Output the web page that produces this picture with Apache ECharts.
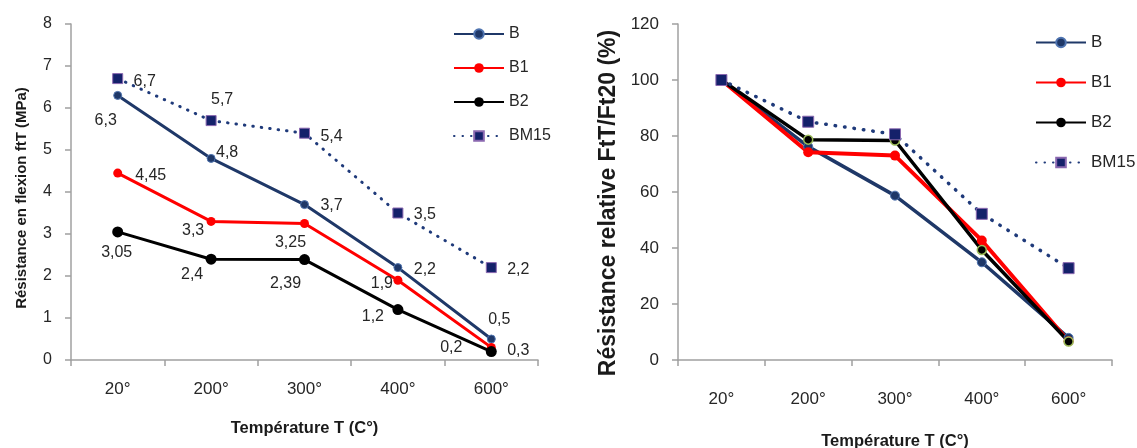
<!DOCTYPE html>
<html><head><meta charset="utf-8">
<script src="https://cdn.jsdelivr.net/npm/echarts@6/dist/echarts.min.js"></script>
<style>html,body{margin:0;padding:0;background:#fff}#c{width:1137px;height:448px}</style>
</head><body><div id="c"></div>
<script>
const categories = ['20°', '200°', '300°', '400°', '600°'];
const seriesNames = ['B', 'B1', 'B2', 'BM15'];
// Left chart: Résistance en flexion ftT (MPa)
const flexB = [6.3, 4.8, 3.7, 2.2, 0.5];
const flexB1 = [4.45, 3.3, 3.25, 1.9, 0.3];
const flexB2 = [3.05, 2.4, 2.39, 1.2, 0.2];
const flexBM15 = [6.7, 5.7, 5.4, 3.5, 2.2];
// Right chart: Résistance relative FtT/Ft20 (%)
const relB = [100, 76.2, 58.7, 34.9, 7.9];
const relB1 = [100, 74.2, 73.0, 42.7, 6.7];
const relB2 = [100, 78.7, 78.4, 39.3, 6.6];
const relBM15 = [100, 85.1, 80.6, 52.2, 32.8];

// label placement (style only)
const offB = [[-12, 25], [16, -6], [27, 1], [27, 2], [8, -19]];
const offB1 = [[33, 2], [-18, 9], [-14, 19], [-16, 3], [27, 3]];
const offB2 = [[-1, 21], [-19, 15], [-19, 24], [-25, 7], [-40, -4]];
const offBM15 = [[27, 3], [11, -21], [27, 3], [27, 2], [27, 2]];

const FONT = '"Liberation Sans", Arial, sans-serif';
const TXT = '#262626';
const AX = '#a0a0a0';
const NAVY = '#1f3868';
const NAVY2 = '#1f3a7a';

function withLabels(vals, offs) {
  return vals.map((v, i) => ({ value: v, label: { offset: offs[i] } }));
}
const lbl = {
  show: true, position: 'inside', color: TXT, fontSize: 16, fontFamily: FONT,
  formatter: p => String(p.value).replace('.', ',')
};

function xAxis(gi, margin, gap) {
  return {
    type: 'category', gridIndex: gi, data: categories, boundaryGap: true,
    axisLine: { lineStyle: { color: AX, width: 1.5 } },
    axisTick: { show: true, length: 6, alignWithLabel: false, interval: 0, lineStyle: { color: AX, width: 1.5 } },
    axisLabel: { margin: margin, color: TXT, fontSize: 17, fontFamily: FONT },
    name: 'Température T (C°)', nameLocation: 'middle', nameGap: gap,
    nameTextStyle: { color: '#1a1a1a', fontWeight: 'bold', fontSize: 16.5, fontFamily: FONT }
  };
}
function yAxis(gi, max, interval, fs, name, nfs, gap, pad) {
  return {
    type: 'value', gridIndex: gi, min: 0, max: max, interval: interval,
    splitLine: { show: false },
    axisLine: { show: true, lineStyle: { color: AX, width: 1.5 } },
    axisTick: { show: true, length: 6, lineStyle: { color: AX, width: 1.5 } },
    axisLabel: { margin: 19, color: TXT, fontSize: fs, fontFamily: FONT },
    name: name, nameLocation: 'middle', nameGap: gap,
    nameTextStyle: { color: '#1a1a1a', fontWeight: 'bold', fontSize: nfs, fontFamily: FONT, padding: [0, pad, 0, 0] }
  };
}

const option = {
  animation: false,
  backgroundColor: '#fff',
  grid: [
    { left: 71, right: 599, top: 24, bottom: 88, containLabel: false, outerBoundsMode: 'none' },
    { left: 678, right: 25, top: 24, bottom: 88, containLabel: false, outerBoundsMode: 'none' }
  ],
  xAxis: [xAxis(0, 21, 60), xAxis(1, 31, 73)],
  yAxis: [
    yAxis(0, 8, 1, 16, 'Résistance en flexion ftT (MPa)', 15, 42, 12),
    yAxis(1, 120, 20, 17, 'Résistance relative FtT/Ft20 (%)', 23, 58, 22)
  ],
  legend: [
    { orient: 'vertical', left: 453, top: 26, padding: 0, itemWidth: 50, itemHeight: 12, itemGap: 18,
      textStyle: { color: TXT, fontSize: 16, fontFamily: FONT }, data: seriesNames },
    { orient: 'vertical', left: 1035, top: 34, padding: 0, itemWidth: 50, itemHeight: 12, itemGap: 23,
      textStyle: { color: TXT, fontSize: 17, fontFamily: FONT }, data: seriesNames }
  ],
  series: [
    { name: 'B', type: 'line', xAxisIndex: 0, yAxisIndex: 0, data: withLabels(flexB, offB),
      symbol: 'circle', symbolSize: 8, lineStyle: { color: NAVY, width: 3 },
      itemStyle: { color: NAVY, borderColor: '#4f74b0', borderWidth: 1 }, label: lbl },
    { name: 'B1', type: 'line', xAxisIndex: 0, yAxisIndex: 0, data: withLabels(flexB1, offB1),
      symbol: 'circle', symbolSize: 9, lineStyle: { color: '#ff0000', width: 3 },
      itemStyle: { color: '#ff0000' }, label: lbl },
    { name: 'B2', type: 'line', xAxisIndex: 0, yAxisIndex: 0, data: withLabels(flexB2, offB2),
      symbol: 'circle', symbolSize: 11, lineStyle: { color: '#000', width: 3 },
      itemStyle: { color: '#000' }, label: lbl },
    { name: 'BM15', type: 'line', xAxisIndex: 0, yAxisIndex: 0, data: withLabels(flexBM15, offBM15),
      symbol: 'rect', symbolSize: 10, lineStyle: { color: NAVY2, width: 3, type: [0.5, 8], cap: 'round' },
      itemStyle: { color: '#14216a', borderColor: '#8a68b0', borderWidth: 1 }, label: lbl },

    { name: 'B', type: 'line', xAxisIndex: 1, yAxisIndex: 1, data: relB,
      symbol: 'circle', symbolSize: 9, lineStyle: { color: NAVY, width: 3.5 },
      itemStyle: { color: NAVY, borderColor: '#4f74b0', borderWidth: 1 } },
    { name: 'B1', type: 'line', xAxisIndex: 1, yAxisIndex: 1, data: relB1,
      symbol: 'circle', symbolSize: 10, lineStyle: { color: '#ff0000', width: 4 },
      itemStyle: { color: '#ff0000' } },
    { name: 'B2', type: 'line', xAxisIndex: 1, yAxisIndex: 1, data: relB2,
      symbol: 'circle', symbolSize: 9, lineStyle: { color: '#000', width: 3.5 },
      itemStyle: { color: '#000', borderColor: '#9bbb59', borderWidth: 1.5 } },
    { name: 'BM15', type: 'line', xAxisIndex: 1, yAxisIndex: 1, data: relBM15,
      symbol: 'rect', symbolSize: 11, lineStyle: { color: NAVY2, width: 3.5, type: [0.5, 9], cap: 'round' },
      itemStyle: { color: '#14216a', borderColor: '#8a68b0', borderWidth: 1 } }
  ]
};

const chart = echarts.init(document.getElementById('c'), null, { renderer: 'canvas' });
chart.setOption(option);
</script>
</body></html>
